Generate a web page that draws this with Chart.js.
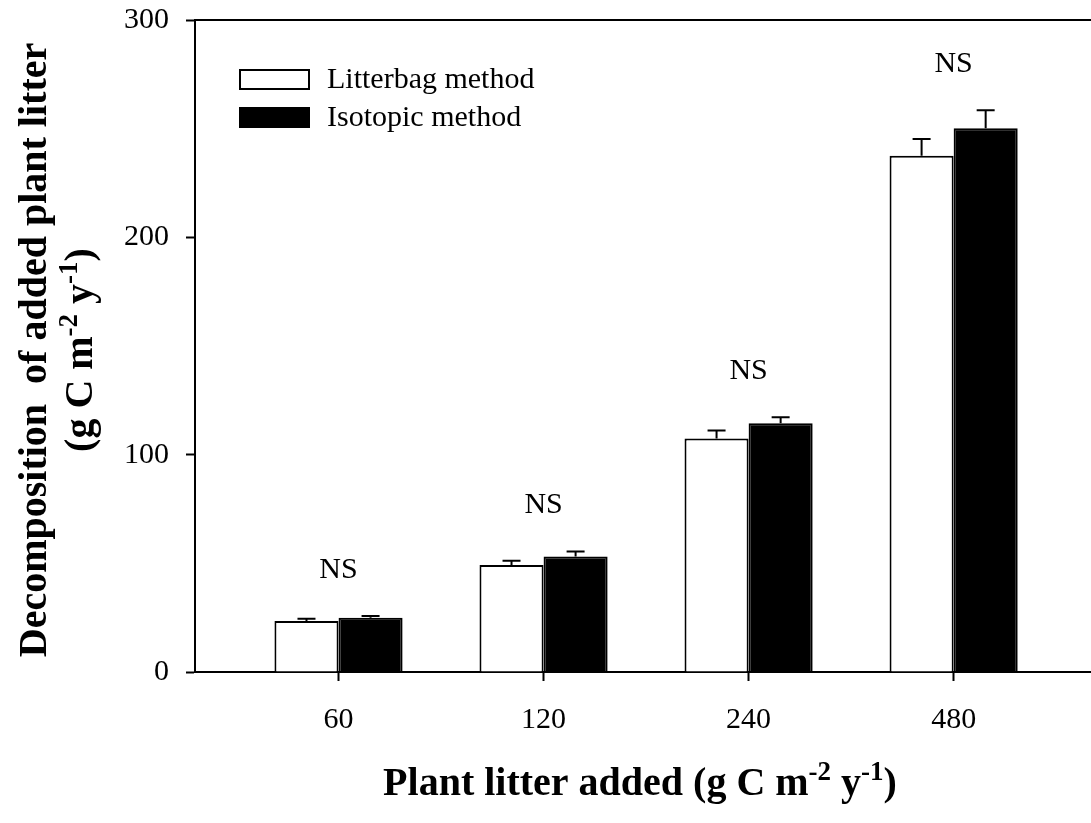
<!DOCTYPE html>
<html>
<head>
<meta charset="utf-8">
<script src="https://cdn.jsdelivr.net/npm/chart.js@4.4.0/dist/chart.umd.min.js"></script>
<style>
    html, body { margin: 0; padding: 0; background: #fff; overflow: hidden; }
    #wrap { width: 1091px; height: 823px; }
</style>
</head>
<body>
<div id="wrap"><canvas id="decompChart" width="1091" height="823"></canvas></div>
<script>
// data
const litterAdded = ['60', '120', '240', '480'];
const litterbagMean = [23.5, 49.2, 107.4, 237.5];
const litterbagErr = [1.0, 2.0, 3.7, 7.8];
const isotopicMean = [25.0, 53.2, 114.4, 250.2];
const isotopicErr = [0.8, 2.3, 2.8, 8.3];
const sigLabels = ['NS', 'NS', 'NS', 'NS'];
const yTicks = [0, 100, 200, 300];

const SERIF = '"Liberation Serif", "Times New Roman", serif';

// text with superscripts, parts = [[text, isSup], ...]
function drawRich(ctx, parts, x, y, size) {
    const supSize = Math.round(size * 0.68);
    let total = 0;
    parts.forEach(p => {
        ctx.font = 'bold ' + (p[1] ? supSize : size) + 'px ' + SERIF;
        total += ctx.measureText(p[0]).width;
    });
    let cx = x - total / 2;
    ctx.textAlign = 'left';
    ctx.textBaseline = 'alphabetic';
    parts.forEach(p => {
        ctx.font = 'bold ' + (p[1] ? supSize : size) + 'px ' + SERIF;
        ctx.fillText(p[0], cx, p[1] ? y - size * 0.38 : y);
        cx += ctx.measureText(p[0]).width;
    });
}

const extras = {
    id: 'extras',
    afterDatasetsDraw(chart) {
        const ctx = chart.ctx;
        const xs = chart.scales.x, ys = chart.scales.y;
        const area = chart.chartArea;
        ctx.save();
        ctx.strokeStyle = '#000';
        ctx.fillStyle = '#000';
        ctx.lineWidth = 2;

        // top frame line
        ctx.beginPath();
        ctx.moveTo(area.left, area.top);
        ctx.lineTo(area.right, area.top);
        ctx.stroke();

        // error bars (upper only)
        chart.data.datasets.forEach((ds, di) => {
            const meta = chart.getDatasetMeta(di);
            meta.data.forEach((bar, i) => {
                const top = ys.getPixelForValue(ds.data[i].y + ds.errors[i]);
                ctx.beginPath();
                ctx.moveTo(bar.x, bar.y);
                ctx.lineTo(bar.x, top);
                ctx.moveTo(bar.x - 9, top);
                ctx.lineTo(bar.x + 9, top);
                ctx.stroke();
            });
        });

        // NS labels
        ctx.font = '30px ' + SERIF;
        ctx.textAlign = 'center';
        ctx.textBaseline = 'middle';
        sigLabels.forEach((s, i) => {
            const hi = Math.max(litterbagMean[i] + litterbagErr[i], isotopicMean[i] + isotopicErr[i]);
            ctx.fillText(s, xs.getPixelForValue(i), ys.getPixelForValue(hi) - 46);
        });

        // legend
        chart.data.datasets.forEach((ds, di) => {
            const by = 70 + di * 38;
            ctx.fillStyle = ds.backgroundColor;
            ctx.fillRect(240, by, 69, 19);
            ctx.strokeRect(240, by, 69, 19);
            ctx.fillStyle = '#000';
            ctx.font = '30px ' + SERIF;
            ctx.textAlign = 'left';
            ctx.textBaseline = 'middle';
            ctx.fillText(ds.label, 327, by + 10);
        });

        // axis titles
        drawRich(ctx, [['Plant litter added (g C m', false], ['-2', true], [' y', false], ['-1', true], [')', false]],
            640, 795, 40);

        ctx.save();
        ctx.translate(46, 350);
        ctx.rotate(-Math.PI / 2);
        drawRich(ctx, [['Decomposition  of added plant litter', false]], 0, 0, 40);
        ctx.restore();

        ctx.save();
        ctx.translate(92, 350);
        ctx.rotate(-Math.PI / 2);
        drawRich(ctx, [['(g C m', false], ['-2', true], [' y', false], ['-1', true], [')', false]], 0, 0, 40);
        ctx.restore();

        ctx.restore();
    }
};

const axisGrid = { drawOnChartArea: false, drawTicks: true, tickLength: 9, tickColor: '#000', tickWidth: 2, offset: false };
const axisBorder = { display: true, color: '#000', width: 2 };
const tickFont = { family: SERIF, size: 30 };

const ctx = document.getElementById('decompChart').getContext('2d');
new Chart(ctx, {
    type: 'bar',
    data: {
        datasets: [
            {
                label: 'Litterbag method',
                data: litterbagMean.map((v, i) => ({ x: i, y: v })),
                errors: litterbagErr,
                backgroundColor: '#ffffff',
                borderColor: '#000000',
                borderWidth: 2,
                categoryPercentage: 0.625,
                barPercentage: 1.0
            },
            {
                label: 'Isotopic method',
                data: isotopicMean.map((v, i) => ({ x: i, y: v })),
                errors: isotopicErr,
                backgroundColor: '#000000',
                borderColor: '#000000',
                borderWidth: 2,
                categoryPercentage: 0.625,
                barPercentage: 1.0
            }
        ]
    },
    options: {
        responsive: false,
        animation: false,
        devicePixelRatio: 1,
        layout: { padding: { top: 20, left: 0, right: 0, bottom: 0 } },
        plugins: { legend: { display: false }, tooltip: { enabled: false } },
        scales: {
            x: {
                type: 'linear',
                offset: false,
                min: -0.7,
                max: 3.67,
                afterBuildTicks: s => { s.ticks = litterAdded.map((_, i) => ({ value: i })); },
                afterFit: s => { s.height = 151; s.paddingLeft = 0; s.paddingRight = 0; },
                ticks: {
                    callback: v => litterAdded[v],
                    font: tickFont, color: '#000', padding: 21,
                    maxRotation: 0, autoSkip: false
                },
                grid: axisGrid,
                border: axisBorder
            },
            y: {
                min: 0,
                max: 300,
                afterBuildTicks: s => { s.ticks = yTicks.map(v => ({ value: v })); },
                afterFit: s => { s.width = 195; s.paddingTop = 0; s.paddingBottom = 0; },
                ticks: { font: tickFont, color: '#000', padding: 17 },
                grid: axisGrid,
                border: axisBorder
            }
        }
    },
    plugins: [extras]
});
</script>
</body>
</html>
